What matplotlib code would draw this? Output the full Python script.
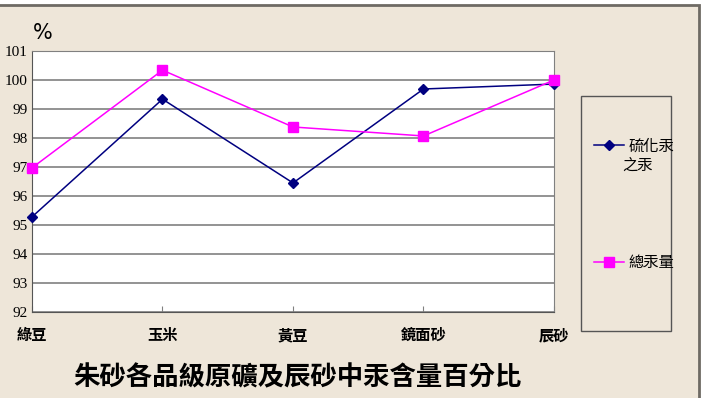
import matplotlib
matplotlib.use("Agg")
import matplotlib.pyplot as plt
from matplotlib.patches import Rectangle

categories = ["綠豆", "玉米", "黃豆", "鏡面砂", "辰砂"]
hgs_hg = [95.28, 99.34, 96.45, 99.69, 99.86]   # 硫化汞之汞
total_hg = [96.97, 100.34, 98.38, 98.07, 100.0]  # 總汞量
yticks = list(range(92, 102))

cjk = ["Noto Sans CJK TC", "DejaVu Sans"]
bg = "#EEE6D9"

fig = plt.figure(figsize=(7.05, 3.98), dpi=100, facecolor="white")
# chart area background with its (cropped) border on top and right
fig.patches.append(Rectangle((-10 / 705, -10 / 398), 709 / 705, 403 / 398,
                             transform=fig.transFigure, facecolor=bg,
                             edgecolor="#6E6A64", lw=2, zorder=-2))

ax = fig.add_axes([32 / 705, 86 / 398, 522 / 705, 261 / 398])
ax.set_facecolor("white")

x = list(range(len(categories)))
l1, = ax.plot(x, hgs_hg, color="#000080", marker="D", markersize=5, lw=1.1,
              clip_on=False, zorder=3)
l2, = ax.plot(x, total_hg, color="#FF00FF", marker="s", markersize=7, lw=1.1,
              clip_on=False, zorder=3)

ax.set_xlim(0, 4)
ax.set_ylim(92, 101)
ax.set_yticks(yticks)
ax.set_yticklabels([str(v) for v in yticks], family="Liberation Serif", fontsize=11)
ax.set_xticks(x)
ax.set_xticklabels(categories, family=cjk, fontsize=11, fontweight="bold")
ax.tick_params(axis="x", direction="in", length=4, pad=11, color="#808080")
ax.tick_params(axis="y", length=0, pad=3)
ax.yaxis.grid(True, color="#808080", lw=1.2)
ax.set_axisbelow(True)
for s in ["top", "right"]:
    ax.spines[s].set_color("#808080")
for s in ["left", "bottom"]:
    ax.spines[s].set_color("#555555")

fig.text(33 / 705, 1 - 33 / 398, "%", fontsize=15, family="DejaVu Sans", va="center")
fig.text(297 / 705, 1 - 378 / 398, "朱砂各品級原礦及辰砂中汞含量百分比",
         family=cjk, fontsize=19, fontweight="bold", ha="center", va="center")

# legend box
fig.patches.append(Rectangle((581 / 705, 1 - 331 / 398), 90 / 705, 235 / 398,
                             transform=fig.transFigure, facecolor=bg,
                             edgecolor="#555555", lw=1, zorder=-1))
leg_kw = dict(frameon=False, prop={"family": cjk, "size": 11}, handlelength=2.0,
              handletextpad=0.3, borderpad=0)
fig.legend([l1], ["硫化汞"], loc="center left",
           bbox_to_anchor=(586 / 705, 1 - 146 / 398), **leg_kw)
fig.text(622 / 705, 1 - 165 / 398, "之汞", family=cjk, fontsize=11, va="center")
fig.legend([l2], ["總汞量"], loc="center left",
           bbox_to_anchor=(586 / 705, 1 - 263 / 398), **leg_kw)

fig.savefig("out.png", dpi=100, facecolor="white")
